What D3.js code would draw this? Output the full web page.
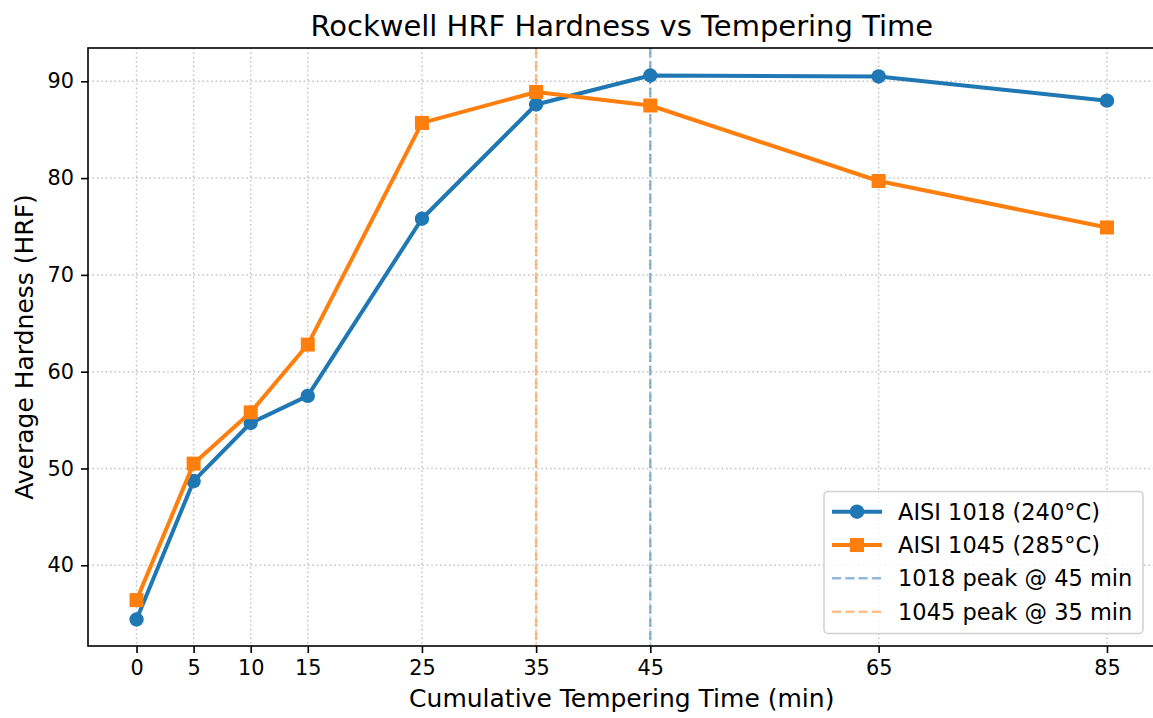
<!DOCTYPE html>
<html>
<head>
<meta charset="utf-8">
<script src="https://cdn.jsdelivr.net/npm/d3@7"></script>
<style>
body { margin: 0; background: #fff; }
text { font-family: "DejaVu Sans", sans-serif; fill: #000; }
</style>
</head>
<body>
<svg id="chart" width="1153" height="718"></svg>
<script>
const times = [0, 5, 10, 15, 25, 35, 45, 65, 85];
const hrf1018 = [34.4, 48.7, 54.7, 57.5, 75.8, 87.6, 90.6, 90.5, 88.0];
const hrf1045 = [36.4, 50.5, 55.8, 62.8, 85.7, 88.9, 87.5, 79.7, 74.9];
const xTicks = [0, 5, 10, 15, 25, 35, 45, 65, 85];
const yTicks = [40, 50, 60, 70, 80, 90];
const peak1018 = 45, peak1045 = 35;
const seriesNames = ["AISI 1018 (240°C)", "AISI 1045 (285°C)", "1018 peak @ 45 min", "1045 peak @ 35 min"];

const blue = "#1f77b4", orange = "#ff7f0e";
const svg = d3.select("#chart");
const L = 88, R = 1155.5, T = 48, B = 646;

const x = d3.scaleLinear().domain([-4.25, 89.25]).range([L, R]);
const y = d3.scaleLinear().domain([31.66, 93.44]).range([B, T]);

const g = svg.append("g");

// grid
const gridStyle = sel => sel.attr("stroke", "#b0b0b0").attr("stroke-opacity", 0.75)
  .attr("stroke-width", 1.5).attr("stroke-dasharray", "1.6,2.8");
g.append("g").selectAll("line").data(xTicks).join("line")
  .attr("x1", d => x(d)).attr("x2", d => x(d)).attr("y1", T).attr("y2", B).call(gridStyle);
g.append("g").selectAll("line").data(yTicks).join("line")
  .attr("y1", d => y(d)).attr("y2", d => y(d)).attr("x1", L).attr("x2", R).call(gridStyle);

// peak lines
g.append("line").attr("x1", x(peak1018)).attr("x2", x(peak1018)).attr("y1", T).attr("y2", B)
  .attr("stroke", blue).attr("stroke-opacity", 0.5).attr("stroke-width", 2.5).attr("stroke-dasharray", "9.25,4");
g.append("line").attr("x1", x(peak1045)).attr("x2", x(peak1045)).attr("y1", T).attr("y2", B)
  .attr("stroke", orange).attr("stroke-opacity", 0.5).attr("stroke-width", 2.5).attr("stroke-dasharray", "9.25,4");

const line = d3.line().x(d => x(d[0])).y(d => y(d[1]));
const d1018 = times.map((t, i) => [t, hrf1018[i]]);
const d1045 = times.map((t, i) => [t, hrf1045[i]]);

g.append("path").datum(d1018).attr("d", line).attr("fill", "none")
  .attr("stroke", blue).attr("stroke-width", 4).attr("stroke-linejoin", "round");
g.append("g").selectAll("circle").data(d1018).join("circle")
  .attr("cx", d => x(d[0])).attr("cy", d => y(d[1])).attr("r", 7.2).attr("fill", blue);

g.append("path").datum(d1045).attr("d", line).attr("fill", "none")
  .attr("stroke", orange).attr("stroke-width", 4).attr("stroke-linejoin", "round");
g.append("g").selectAll("rect").data(d1045).join("rect")
  .attr("x", d => x(d[0]) - 7).attr("y", d => y(d[1]) - 7).attr("width", 14).attr("height", 14).attr("fill", orange);

// axes
const xAxis = d3.axisBottom(x).tickValues(xTicks).tickSize(7).tickPadding(7);
const yAxis = d3.axisLeft(y).tickValues(yTicks).tickSize(7).tickPadding(7);
const gx = svg.append("g").attr("transform", `translate(0,${B})`).call(xAxis);
const gy = svg.append("g").attr("transform", `translate(${L},0)`).call(yAxis);
[gx, gy].forEach(a => {
  a.select(".domain").remove();
  a.selectAll(".tick line").attr("stroke", "#000").attr("stroke-width", 1.6);
  a.selectAll(".tick text").style("font-size", "20.8px").style("font-family", "DejaVu Sans, sans-serif");
});

// frame
svg.append("rect").attr("x", L).attr("y", T).attr("width", R - L).attr("height", B - T)
  .attr("fill", "none").attr("stroke", "#000").attr("stroke-width", 1.6);

// titles
svg.append("text").attr("x", (L + R) / 2).attr("y", 36).attr("text-anchor", "middle")
  .style("font-size", "29px").text("Rockwell HRF Hardness vs Tempering Time");
svg.append("text").attr("x", (L + R) / 2).attr("y", 707).attr("text-anchor", "middle")
  .style("font-size", "25px").text("Cumulative Tempering Time (min)");
svg.append("text").attr("transform", `translate(33,${(T + B) / 2}) rotate(-90)`).attr("text-anchor", "middle")
  .style("font-size", "25px").text("Average Hardness (HRF)");

// legend
const lg = svg.append("g").attr("transform", "translate(824,491.5)");
lg.append("rect").attr("width", 319).attr("height", 142).attr("rx", 4)
  .attr("fill", "#fff").attr("fill-opacity", 0.8).attr("stroke", "#d0d0d0").attr("stroke-width", 1.5);
const rows = [
  {name: seriesNames[0], color: blue, op: 1, dash: null, marker: "circle"},
  {name: seriesNames[1], color: orange, op: 1, dash: null, marker: "square"},
  {name: seriesNames[2], color: blue, op: 0.5, dash: "9.25,4", marker: null},
  {name: seriesNames[3], color: orange, op: 0.5, dash: "9.25,4", marker: null}
];
rows.forEach((r, i) => {
  const cy = 20.2 + i * 33.33;
  const row = lg.append("g").attr("transform", `translate(0,${cy})`);
  row.append("line").attr("x1", 8).attr("x2", 58).attr("y1", 0).attr("y2", 0)
    .attr("stroke", r.color).attr("stroke-opacity", r.op)
    .attr("stroke-width", r.dash ? 2.5 : 4).attr("stroke-dasharray", r.dash);
  if (r.marker === "circle") row.append("circle").attr("cx", 33).attr("cy", 0).attr("r", 7.2).attr("fill", r.color);
  if (r.marker === "square") row.append("rect").attr("x", 26).attr("y", -7).attr("width", 14).attr("height", 14).attr("fill", r.color);
  row.append("text").attr("x", 74).attr("y", 8).style("font-size", "22.5px").text(r.name);
});
</script>
</body>
</html>
